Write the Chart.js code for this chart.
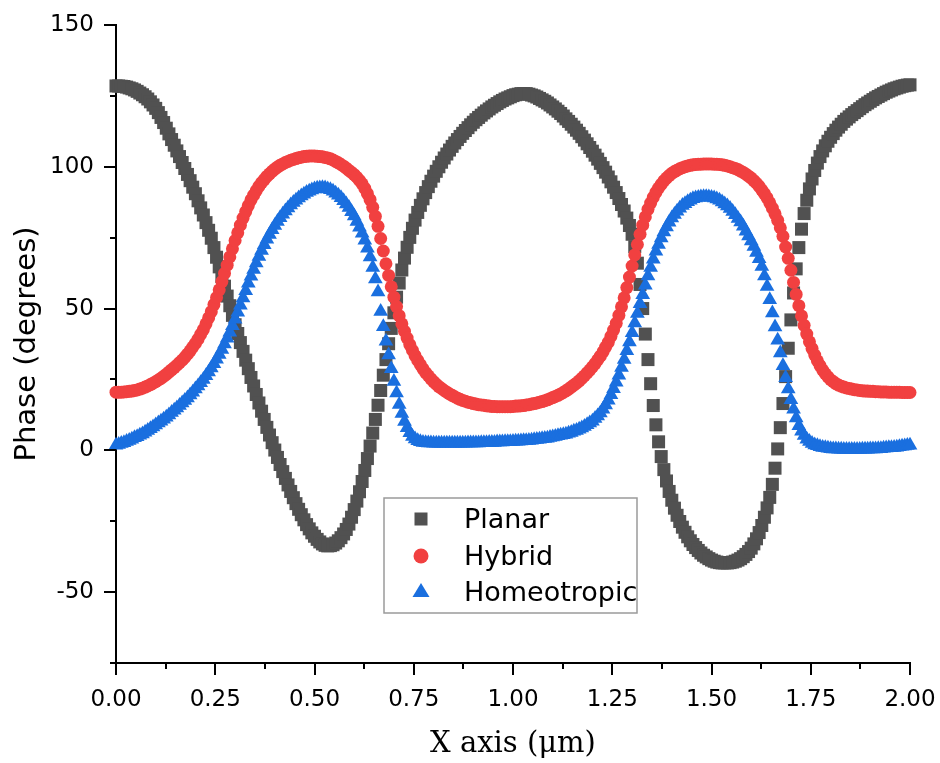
<!DOCTYPE html>
<html>
<head>
<meta charset="utf-8">
<script src="https://cdn.jsdelivr.net/npm/chart.js@4.4.0/dist/chart.umd.min.js"></script>
<style>
    html, body { margin: 0; padding: 0; background: #fff; }
    #caixa { width: 940px; height: 763px; }
</style>
</head>
<body>
<div id="caixa"><canvas id="GraficoFase" width="940" height="763"></canvas></div>
<script>
// posicao x (um), 300 intervalos
var xs = [
    0.0000, 0.0067, 0.0133, 0.0200, 0.0267, 0.0333, 0.0400, 0.0467, 0.0533, 0.0600, 0.0667, 0.0733, 0.0800, 0.0867, 0.0933,
    0.1000, 0.1067, 0.1133, 0.1200, 0.1267, 0.1333, 0.1400, 0.1467, 0.1533, 0.1600, 0.1667, 0.1733, 0.1800, 0.1867, 0.1933,
    0.2000, 0.2067, 0.2133, 0.2200, 0.2267, 0.2333, 0.2400, 0.2467, 0.2533, 0.2600, 0.2667, 0.2733, 0.2800, 0.2867, 0.2933,
    0.3000, 0.3067, 0.3133, 0.3200, 0.3267, 0.3333, 0.3400, 0.3467, 0.3533, 0.3600, 0.3667, 0.3733, 0.3800, 0.3867, 0.3933,
    0.4000, 0.4067, 0.4133, 0.4200, 0.4267, 0.4333, 0.4400, 0.4467, 0.4533, 0.4600, 0.4667, 0.4733, 0.4800, 0.4867, 0.4933,
    0.5000, 0.5067, 0.5133, 0.5200, 0.5267, 0.5333, 0.5400, 0.5467, 0.5533, 0.5600, 0.5667, 0.5733, 0.5800, 0.5867, 0.5933,
    0.6000, 0.6067, 0.6133, 0.6200, 0.6267, 0.6333, 0.6400, 0.6467, 0.6533, 0.6600, 0.6667, 0.6733, 0.6800, 0.6867, 0.6933,
    0.7000, 0.7067, 0.7133, 0.7200, 0.7267, 0.7333, 0.7400, 0.7467, 0.7533, 0.7600, 0.7667, 0.7733, 0.7800, 0.7867, 0.7933,
    0.8000, 0.8067, 0.8133, 0.8200, 0.8267, 0.8333, 0.8400, 0.8467, 0.8533, 0.8600, 0.8667, 0.8733, 0.8800, 0.8867, 0.8933,
    0.9000, 0.9067, 0.9133, 0.9200, 0.9267, 0.9333, 0.9400, 0.9467, 0.9533, 0.9600, 0.9667, 0.9733, 0.9800, 0.9867, 0.9933,
    1.0000, 1.0067, 1.0133, 1.0200, 1.0267, 1.0333, 1.0400, 1.0467, 1.0533, 1.0600, 1.0667, 1.0733, 1.0800, 1.0867, 1.0933,
    1.1000, 1.1067, 1.1133, 1.1200, 1.1267, 1.1333, 1.1400, 1.1467, 1.1533, 1.1600, 1.1667, 1.1733, 1.1800, 1.1867, 1.1933,
    1.2000, 1.2067, 1.2133, 1.2200, 1.2267, 1.2333, 1.2400, 1.2467, 1.2533, 1.2600, 1.2667, 1.2733, 1.2800, 1.2867, 1.2933,
    1.3000, 1.3067, 1.3133, 1.3200, 1.3267, 1.3333, 1.3400, 1.3467, 1.3533, 1.3600, 1.3667, 1.3733, 1.3800, 1.3867, 1.3933,
    1.4000, 1.4067, 1.4133, 1.4200, 1.4267, 1.4333, 1.4400, 1.4467, 1.4533, 1.4600, 1.4667, 1.4733, 1.4800, 1.4867, 1.4933,
    1.5000, 1.5067, 1.5133, 1.5200, 1.5267, 1.5333, 1.5400, 1.5467, 1.5533, 1.5600, 1.5667, 1.5733, 1.5800, 1.5867, 1.5933,
    1.6000, 1.6067, 1.6133, 1.6200, 1.6267, 1.6333, 1.6400, 1.6467, 1.6533, 1.6600, 1.6667, 1.6733, 1.6800, 1.6867, 1.6933,
    1.7000, 1.7067, 1.7133, 1.7200, 1.7267, 1.7333, 1.7400, 1.7467, 1.7533, 1.7600, 1.7667, 1.7733, 1.7800, 1.7867, 1.7933,
    1.8000, 1.8067, 1.8133, 1.8200, 1.8267, 1.8333, 1.8400, 1.8467, 1.8533, 1.8600, 1.8667, 1.8733, 1.8800, 1.8867, 1.8933,
    1.9000, 1.9067, 1.9133, 1.9200, 1.9267, 1.9333, 1.9400, 1.9467, 1.9533, 1.9600, 1.9667, 1.9733, 1.9800, 1.9867, 1.9933,
    2.0000
];

var planar = [
    128.5, 128.5, 128.4, 128.3, 128.1, 127.8, 127.5, 127.1, 126.6, 126.0, 125.4, 124.7, 123.9, 122.9, 121.8,
    120.6, 119.1, 117.4, 115.6, 113.6, 111.6, 109.6, 107.6, 105.6, 103.6, 101.5, 99.4, 97.3, 95.1, 92.8,
    90.5, 88.0, 85.5, 83.0, 80.3, 77.6, 74.8, 71.5, 68.1, 64.7, 61.3, 57.9, 54.4, 51.0, 47.6,
    44.3, 41.2, 38.0, 34.9, 31.8, 28.8, 25.7, 22.7, 19.7, 16.7, 13.8, 10.9, 8.1, 5.4, 2.7,
    0.1, -2.5, -5.0, -7.5, -9.9, -12.2, -14.5, -16.7, -18.8, -20.8, -22.7, -24.5, -26.2, -27.7, -29.1,
    -30.3, -31.4, -32.3, -33.0, -33.5, -33.7, -33.6, -33.3, -32.7, -31.9, -30.8, -29.5, -27.9, -26.0, -23.6,
    -20.9, -17.9, -14.6, -11.0, -7.1, -2.9, 1.5, 6.1, 10.9, 15.9, 21.1, 26.5, 32.0, 37.6, 43.0,
    48.5, 54.0, 59.0, 63.6, 67.8, 71.6, 75.1, 78.3, 81.2, 83.9, 86.4, 88.7, 90.9, 93.0, 94.9,
    96.7, 98.4, 100.0, 101.6, 103.1, 104.5, 105.9, 107.2, 108.4, 109.6, 110.7, 111.8, 112.8, 113.8, 114.8,
    115.7, 116.6, 117.4, 118.2, 119.0, 119.7, 120.4, 121.1, 121.7, 122.3, 122.9, 123.4, 123.9, 124.3, 124.7,
    125.1, 125.4, 125.6, 125.8, 125.8, 125.8, 125.6, 125.3, 125.0, 124.6, 124.1, 123.6, 123.1, 122.5, 121.8,
    121.1, 120.4, 119.6, 118.8, 117.9, 116.9, 116.0, 115.0, 114.0, 112.9, 111.8, 110.6, 109.4, 108.1, 106.8,
    105.5, 104.1, 102.7, 101.2, 99.7, 98.1, 96.4, 94.7, 92.8, 90.9, 88.8, 86.7, 84.4, 81.9, 79.3,
    76.2, 71.8, 66.0, 58.5, 50.0, 41.0, 32.0, 23.5, 15.8, 9.0, 3.0, -2.2, -6.8, -10.8, -14.5,
    -17.6, -20.4, -22.9, -25.1, -27.1, -28.9, -30.5, -31.9, -33.2, -34.3, -35.3, -36.2, -37.0, -37.6, -38.2,
    -38.7, -39.1, -39.4, -39.6, -39.7, -39.7, -39.7, -39.6, -39.4, -39.1, -38.7, -38.2, -37.5, -36.7, -35.7,
    -34.5, -33.0, -31.2, -29.0, -26.5, -23.6, -20.3, -16.6, -12.0, -6.3, 0.5, 8.0, 16.5, 26.0, 36.0,
    46.0, 55.5, 64.0, 71.5, 78.0, 83.5, 88.2, 92.2, 95.7, 98.7, 101.3, 103.6, 105.6, 107.4, 109.0,
    110.4, 111.7, 112.9, 114.0, 115.0, 116.0, 116.8, 117.6, 118.4, 119.1, 119.8, 120.5, 121.2, 121.9, 122.5,
    123.1, 123.7, 124.3, 124.8, 125.3, 125.8, 126.3, 126.7, 127.1, 127.5, 127.8, 128.1, 128.4, 128.6, 128.8,
    128.9
];

var hybrid = [
    20.5, 20.5, 20.5, 20.6, 20.7, 20.8, 20.9, 21.1, 21.3, 21.6, 21.9, 22.3, 22.7, 23.2, 23.7,
    24.2, 24.8, 25.4, 26.1, 26.8, 27.6, 28.4, 29.2, 30.0, 30.9, 31.8, 32.8, 33.9, 35.1, 36.4,
    37.7, 39.2, 40.9, 42.6, 44.6, 46.7, 48.9, 51.4, 53.9, 56.6, 59.5, 62.4, 65.3, 68.2, 71.1,
    74.0, 76.7, 79.4, 81.9, 84.2, 86.3, 88.3, 90.0, 91.6, 93.1, 94.4, 95.5, 96.6, 97.5, 98.4,
    99.2, 99.9, 100.5, 101.0, 101.5, 101.9, 102.3, 102.6, 102.9, 103.2, 103.4, 103.6, 103.7, 103.8, 103.8,
    103.8, 103.7, 103.6, 103.5, 103.3, 103.1, 102.8, 102.4, 101.9, 101.4, 100.8, 100.2, 99.5, 98.7, 98.0,
    97.2, 96.3, 95.2, 94.0, 92.4, 90.5, 88.4, 85.7, 82.5, 79.0, 74.7, 70.3, 65.8, 61.7, 57.7,
    54.0, 50.7, 47.5, 44.6, 42.0, 39.6, 37.3, 35.3, 33.4, 31.7, 30.2, 28.7, 27.4, 26.3, 25.2,
    24.2, 23.3, 22.5, 21.8, 21.1, 20.5, 19.9, 19.4, 18.9, 18.4, 18.0, 17.6, 17.3, 17.0, 16.8,
    16.5, 16.3, 16.1, 16.0, 15.9, 15.7, 15.6, 15.5, 15.5, 15.4, 15.4, 15.4, 15.4, 15.4, 15.4,
    15.5, 15.6, 15.6, 15.7, 15.8, 16.0, 16.1, 16.3, 16.5, 16.7, 17.0, 17.2, 17.5, 17.8, 18.2,
    18.6, 19.0, 19.4, 19.9, 20.4, 21.0, 21.6, 22.3, 23.0, 23.7, 24.5, 25.4, 26.3, 27.3, 28.3,
    29.4, 30.6, 31.9, 33.2, 34.7, 36.4, 38.1, 40.2, 42.4, 44.8, 47.6, 50.6, 53.8, 57.4, 61.1,
    65.0, 68.9, 72.6, 76.2, 79.4, 82.3, 85.0, 87.2, 89.2, 91.0, 92.5, 93.8, 95.0, 96.0, 96.9,
    97.7, 98.3, 98.8, 99.3, 99.7, 100.0, 100.3, 100.5, 100.7, 100.8, 100.9, 100.9, 101.0, 101.0, 101.0,
    101.0, 100.9, 100.9, 100.8, 100.7, 100.5, 100.3, 100.0, 99.7, 99.4, 99.0, 98.5, 98.0, 97.4, 96.7,
    96.0, 95.1, 94.2, 93.1, 91.8, 90.5, 89.0, 87.3, 85.4, 83.4, 81.1, 78.5, 75.5, 71.7, 67.7,
    63.5, 59.2, 55.0, 51.0, 47.4, 44.1, 41.0, 38.3, 35.9, 33.6, 31.6, 29.9, 28.3, 27.0, 25.9,
    24.9, 24.2, 23.5, 23.0, 22.6, 22.3, 22.0, 21.8, 21.6, 21.4, 21.3, 21.1, 21.0, 20.9, 20.9,
    20.8, 20.8, 20.7, 20.7, 20.6, 20.6, 20.6, 20.5, 20.5, 20.5, 20.5, 20.5, 20.4, 20.4, 20.4,
    20.4
];

var homeotropic = [
    1.8, 2.1, 2.4, 2.7, 3.1, 3.5, 3.9, 4.4, 4.8, 5.3, 5.8, 6.4, 7.0, 7.6, 8.2,
    8.9, 9.6, 10.3, 11.0, 11.7, 12.5, 13.3, 14.1, 14.9, 15.8, 16.7, 17.6, 18.5, 19.5, 20.5,
    21.6, 22.7, 23.8, 25.0, 26.3, 27.6, 29.0, 30.5, 32.1, 33.8, 35.6, 37.5, 39.5, 41.6, 43.9,
    46.2, 48.7, 51.2, 53.7, 56.3, 58.9, 61.4, 63.8, 66.1, 68.4, 70.5, 72.5, 74.4, 76.1, 77.8,
    79.3, 80.7, 82.0, 83.3, 84.4, 85.5, 86.5, 87.4, 88.2, 89.0, 89.7, 90.3, 90.9, 91.4, 91.8,
    92.2, 92.4, 92.5, 92.6, 92.5, 92.2, 91.9, 91.4, 90.7, 90.0, 89.1, 88.0, 86.9, 85.6, 84.1,
    82.6, 80.7, 78.7, 76.6, 74.1, 71.3, 68.2, 64.5, 60.4, 55.8, 49.0, 43.6, 38.5, 33.6, 28.8,
    24.3, 20.2, 16.2, 13.0, 10.2, 8.0, 6.2, 4.9, 4.0, 3.4, 3.0, 2.8, 2.7, 2.6, 2.6,
    2.5, 2.5, 2.5, 2.5, 2.5, 2.5, 2.5, 2.5, 2.5, 2.5, 2.5, 2.5, 2.5, 2.6, 2.6,
    2.6, 2.6, 2.6, 2.7, 2.7, 2.7, 2.8, 2.8, 2.8, 2.9, 2.9, 2.9, 3.0, 3.0, 3.0,
    3.1, 3.2, 3.2, 3.3, 3.4, 3.4, 3.5, 3.6, 3.7, 3.8, 3.9, 4.1, 4.2, 4.3, 4.5,
    4.7, 4.9, 5.1, 5.3, 5.5, 5.7, 6.0, 6.3, 6.7, 7.0, 7.4, 7.9, 8.4, 9.0, 9.6,
    10.3, 11.2, 12.1, 13.2, 14.5, 16.0, 17.7, 19.6, 21.7, 24.0, 26.5, 29.2, 32.0, 35.1, 38.2,
    41.5, 44.9, 48.3, 51.7, 54.9, 58.2, 61.5, 64.5, 67.4, 70.2, 72.6, 74.9, 77.0, 78.8, 80.4,
    81.9, 83.2, 84.3, 85.4, 86.3, 87.0, 87.7, 88.2, 88.7, 89.0, 89.2, 89.3, 89.4, 89.4, 89.3,
    89.2, 89.0, 88.6, 88.2, 87.6, 86.9, 86.2, 85.3, 84.2, 83.1, 81.8, 80.5, 79.0, 77.3, 75.6,
    73.8, 71.9, 69.8, 67.6, 64.8, 61.5, 57.8, 53.1, 48.4, 43.5, 38.8, 34.3, 29.8, 25.6, 21.6,
    17.8, 14.5, 11.4, 8.7, 6.7, 5.2, 3.9, 3.1, 2.4, 1.9, 1.6, 1.3, 1.0, 0.9, 0.7,
    0.6, 0.5, 0.5, 0.4, 0.4, 0.3, 0.3, 0.3, 0.3, 0.3, 0.3, 0.3, 0.4, 0.4, 0.4,
    0.5, 0.5, 0.5, 0.6, 0.6, 0.7, 0.8, 0.9, 0.9, 1.0, 1.1, 1.3, 1.4, 1.5, 1.7,
    1.8
];

var nomes = ['Planar', 'Hybrid', 'Homeotropic'];
var cores = ['#515151', '#F14040', '#1A6FDF'];

function pontos(ys) {
    return xs.map(function (x, i) { return { x: x, y: ys[i] }; });
}

// marcas dos eixos (maiores e menores) desenhadas por fora
var marcasEixos = {
    id: 'marcasEixos',
    afterDraw: function (chart) {
        var ctx = chart.ctx;
        var area = chart.chartArea;
        var sx = chart.scales.x;
        var sy = chart.scales.y;
        ctx.save();
        ctx.strokeStyle = '#000';
        ctx.lineWidth = 2;
        sy.ticks.forEach(function (t) {
            var py = Math.round(sy.getPixelForValue(t.value));
            var len = t.label !== '' ? 12 : 6;
            ctx.beginPath();
            ctx.moveTo(area.left - len, py);
            ctx.lineTo(area.left, py);
            ctx.stroke();
        });
        sx.ticks.forEach(function (t) {
            var px = Math.round(sx.getPixelForValue(t.value));
            var len = t.label !== '' ? 12 : 6;
            ctx.beginPath();
            ctx.moveTo(px, area.bottom);
            ctx.lineTo(px, area.bottom + len);
            ctx.stroke();
        });
        ctx.restore();
    }
};

// legenda em caixa dentro da area do grafico
var legendaCaixa = {
    id: 'legendaCaixa',
    afterDraw: function (chart) {
        var ctx = chart.ctx;
        ctx.save();
        ctx.fillStyle = '#fff';
        ctx.fillRect(384, 498, 253, 115);
        ctx.strokeStyle = '#9a9a9a';
        ctx.lineWidth = 1.5;
        ctx.strokeRect(384, 498, 253, 115);

        var linhas = [528, 565, 601];
        var centros = [519, 556, 592];
        var mx = 421;

        ctx.fillStyle = cores[0];
        ctx.fillRect(mx - 6.5, centros[0] - 6.5, 13, 13);

        ctx.fillStyle = cores[1];
        ctx.beginPath();
        ctx.arc(mx, centros[1], 7.5, 0, Math.PI * 2);
        ctx.fill();

        ctx.fillStyle = cores[2];
        ctx.beginPath();
        ctx.moveTo(mx, centros[2] - 9);
        ctx.lineTo(mx + 8.5, centros[2] + 5);
        ctx.lineTo(mx - 8.5, centros[2] + 5);
        ctx.closePath();
        ctx.fill();

        ctx.fillStyle = '#000';
        ctx.font = '27px "DejaVu Sans"';
        ctx.textBaseline = 'alphabetic';
        ctx.textAlign = 'left';
        for (var i = 0; i < nomes.length; i++) {
            ctx.fillText(nomes[i], 464, linhas[i]);
        }
        ctx.restore();
    }
};

new Chart(document.getElementById('GraficoFase'), {
    type: 'scatter',
    data: {
        datasets: [{
            label: nomes[0],
            data: pontos(planar),
            pointStyle: 'rect',
            pointRadius: 9.2,
            backgroundColor: cores[0],
            borderColor: cores[0],
            pointBorderWidth: 0,
            clip: false,
            order: 3
        }, {
            label: nomes[1],
            data: pontos(hybrid),
            pointStyle: 'circle',
            pointRadius: 6.5,
            backgroundColor: cores[1],
            borderColor: cores[1],
            pointBorderWidth: 0,
            clip: false,
            order: 2
        }, {
            label: nomes[2],
            data: pontos(homeotropic),
            pointStyle: 'triangle',
            pointRadius: 8.5,
            backgroundColor: cores[2],
            borderColor: cores[2],
            pointBorderWidth: 0,
            clip: false,
            order: 1
        }]
    },
    options: {
        responsive: false,
        maintainAspectRatio: false,
        devicePixelRatio: 1,
        animation: false,
        events: [],
        layout: { autoPadding: false, padding: { left: 0, top: 25, right: 30, bottom: 0 } },
        plugins: {
            legend: { display: false },
            tooltip: { enabled: false }
        },
        scales: {
            x: {
                type: 'linear',
                min: 0,
                max: 2,
                afterFit: function (s) { s.height = 100; },
                // marcas invisiveis so para afastar os rotulos do eixo
                grid: { display: true, drawOnChartArea: false, drawTicks: true, tickLength: 21, tickColor: 'rgba(0,0,0,0)' },
                border: { display: true, color: '#000', width: 2 },
                ticks: {
                    stepSize: 0.125,
                    autoSkip: false,
                    maxRotation: 0,
                    padding: 2,
                    color: '#000',
                    font: { family: 'DejaVu Sans', size: 23 },
                    callback: function (v) {
                        return Math.abs(v * 4 - Math.round(v * 4)) < 1e-6 ? v.toFixed(2) : '';
                    }
                },
                title: {
                    display: true,
                    text: 'X axis (μm)',
                    color: '#000',
                    font: { family: 'DejaVu Serif', size: 29 },
                    padding: { top: 0, bottom: 1 }
                }
            },
            y: {
                type: 'linear',
                min: -75,
                max: 150,
                afterFit: function (s) { s.width = 116; },
                grid: { display: true, drawOnChartArea: false, drawTicks: true, tickLength: 20, tickColor: 'rgba(0,0,0,0)' },
                border: { display: true, color: '#000', width: 2 },
                ticks: {
                    stepSize: 25,
                    autoSkip: false,
                    padding: 2,
                    color: '#000',
                    font: { family: 'DejaVu Sans', size: 23 },
                    callback: function (v) { return v % 50 === 0 ? String(v) : ''; }
                },
                title: {
                    display: true,
                    text: 'Phase (degrees)',
                    color: '#000',
                    font: { family: 'DejaVu Sans', size: 29 },
                    padding: { top: 10, bottom: 0 }
                }
            }
        }
    },
    plugins: [marcasEixos, legendaCaixa]
});
</script>
</body>
</html>
